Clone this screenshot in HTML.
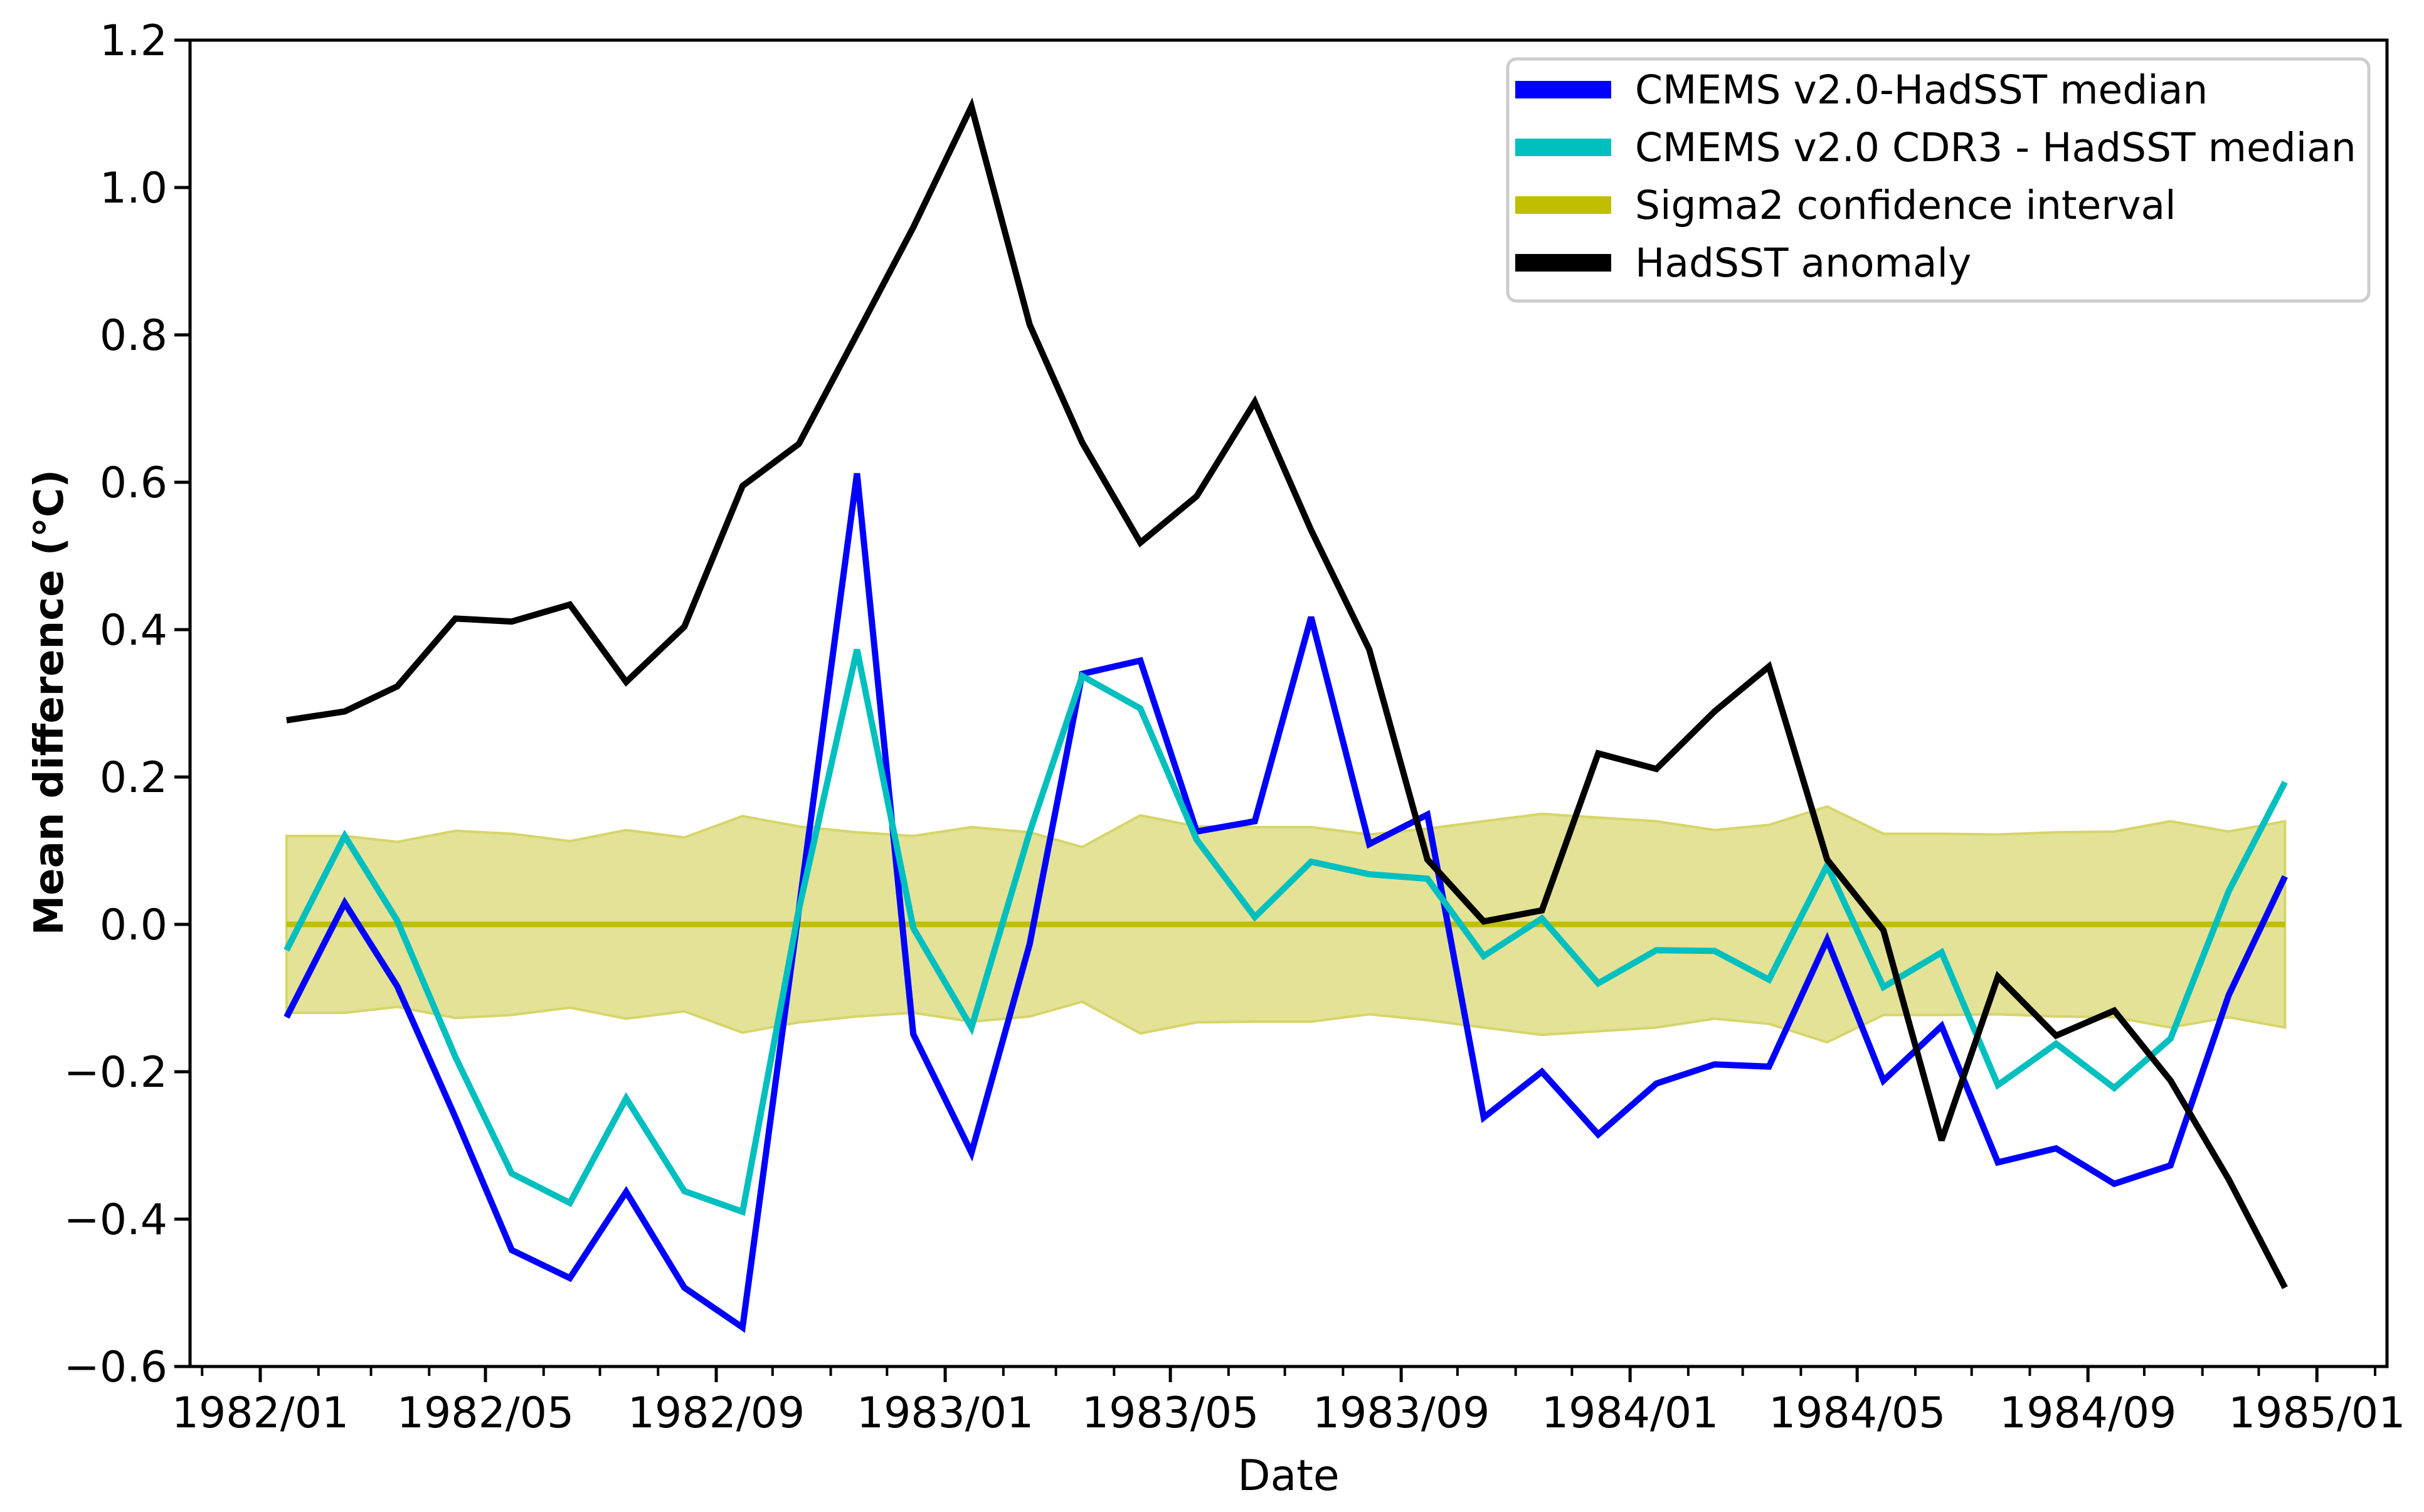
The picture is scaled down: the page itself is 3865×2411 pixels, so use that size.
<!DOCTYPE html>
<html><head><meta charset="utf-8"><style>
html,body{margin:0;padding:0;background:#fff;}
svg{display:block;font-family:"DejaVu Sans","Liberation Sans",sans-serif;}
</style></head><body>
<svg id="chart" width="3865" height="2411" viewBox="0 0 3865 2411" xmlns="http://www.w3.org/2000/svg"></svg>
<script>
const months = ["1982/01","1982/02","1982/03","1982/04","1982/05","1982/06","1982/07","1982/08","1982/09","1982/10","1982/11","1982/12","1983/01","1983/02","1983/03","1983/04","1983/05","1983/06","1983/07","1983/08","1983/09","1983/10","1983/11","1983/12","1984/01","1984/02","1984/03","1984/04","1984/05","1984/06","1984/07","1984/08","1984/09","1984/10","1984/11","1984/12"];
const blueVals = [-0.126,0.029,-0.084,-0.262,-0.442,-0.480,-0.363,-0.493,-0.547,0.02,0.612,-0.149,-0.310,-0.027,0.340,0.358,0.126,0.140,0.417,0.109,0.149,-0.262,-0.200,-0.285,-0.216,-0.190,-0.193,-0.021,-0.212,-0.138,-0.323,-0.304,-0.352,-0.327,-0.096,0.065];
const cyanVals = [-0.035,0.120,0.005,-0.180,-0.338,-0.378,-0.236,-0.362,-0.390,0.02,0.373,-0.005,-0.140,0.125,0.337,0.293,0.115,0.010,0.085,0.068,0.062,-0.043,0.008,-0.080,-0.035,-0.036,-0.075,0.080,-0.085,-0.038,-0.218,-0.162,-0.222,-0.155,0.045,0.193];
const blackVals = [0.277,0.289,0.323,0.415,0.411,0.434,0.329,0.404,0.595,0.652,0.801,0.946,1.110,0.814,0.654,0.518,0.581,0.709,0.535,0.373,0.088,0.004,0.019,0.232,0.211,0.289,0.350,0.088,-0.008,-0.293,-0.071,-0.151,-0.117,-0.212,-0.346,-0.493];
const sigmaVals = [0.12,0.12,0.112,0.127,0.123,0.113,0.128,0.118,0.147,0.133,0.125,0.12,0.132,0.125,0.105,0.148,0.133,0.132,0.132,0.122,0.13,0.14,0.15,0.145,0.14,0.128,0.135,0.16,0.123,0.123,0.122,0.125,0.126,0.14,0.126,0.14];
const yTicks = [-0.6,-0.4,-0.2,0.0,0.2,0.4,0.6,0.8,1.0,1.2];
const xTickLabels = ["1982/01","1982/05","1982/09","1983/01","1983/05","1983/09","1984/01","1984/05","1984/09","1985/01"];

const svg = document.getElementById('chart');
const NS = "http://www.w3.org/2000/svg";
const L=303,R=3806,T=64,B=2179;
const X0=415, PXD=2.992;
const base = Date.UTC(1982,0,1);
function dayOf(s,d){const p=s.split('/');return (Date.UTC(+p[0],+p[1]-1,d)-base)/86400000;}
function xs(s,d){return X0+dayOf(s,d)*PXD;}
function ys(v){return T+(1.2-v)*(B-T)/1.8;}
function mk(tag,attrs,parent){const e=document.createElementNS(NS,tag);for(const k in attrs)e.setAttribute(k,attrs[k]);(parent||svg).appendChild(e);return e;}

let up=months.map((m,i)=>xs(m,15)+','+ys(sigmaVals[i]));
let lo=months.map((m,i)=>xs(m,15)+','+ys(-sigmaVals[i])).reverse();
const band=mk('polygon',{points:up.concat(lo).join(' '),fill:'#e3e296',stroke:'#d6d56a','stroke-width':4});


const zl=mk('line',{x1:xs(months[0],15),x2:xs(months[35],15),y1:ys(0),y2:ys(0),stroke:'#bfbf00','stroke-width':9});



function series(vals,color,name){
  const pts=months.map((m,i)=>xs(m,15)+','+ys(vals[i])).join(' ');
  const p=mk('polyline',{points:pts,fill:'none',stroke:color,'stroke-width':10,'stroke-linejoin':'miter','stroke-miterlimit':3});
  
  
}
series(blueVals,'#0000ff','cmems-hadsst-line');
series(cyanVals,'#00bfbf','cmems-cdr3-hadsst-line');
series(blackVals,'#000000','hadsst-anomaly-line');

const fr=mk('rect',{x:L,y:T,width:R-L,height:B-T,fill:'none',stroke:'#000','stroke-width':5});



yTicks.forEach(v=>{
  const y=ys(v);
  mk('line',{x1:L-25,x2:L,y1:y,y2:y,stroke:'#000','stroke-width':5});
  const t=mk('text',{x:L-36,y:y+24,'text-anchor':'end','font-size':68,fill:'#000'});
  t.textContent=(v<0?'\u2212':'')+Math.abs(v).toFixed(1);
  
  
});
for(let y=1981;y<=1985;y++)for(let m=1;m<=12;m++){
  const x=X0+(Date.UTC(y,m-1,1)-base)/86400000*PXD;
  if(x<L||x>R)continue;
  mk('line',{x1:x,x2:x,y1:B,y2:B+15,stroke:'#000','stroke-width':4});
}
xTickLabels.forEach(s=>{
  const x=xs(s,1);
  mk('line',{x1:x,x2:x,y1:B,y2:B+25,stroke:'#000','stroke-width':5});
  const t=mk('text',{x:x,y:2276,'text-anchor':'middle','font-size':68,fill:'#000'});
  t.textContent=s;
  
  
});
const xt=mk('text',{x:(L+R)/2,y:2376,'text-anchor':'middle','font-size':68,fill:'#000'});
xt.textContent='Date';


const yt=mk('text',{x:0,y:0,'text-anchor':'middle','font-size':64,'font-weight':'bold',fill:'#000',transform:'translate(100,1120) rotate(-90)'});
yt.textContent='Mean difference (\u00B0C)';



const lg=mk('g',{});


mk('rect',{x:2404,y:94,width:1373,height:386,rx:14,fill:'#fff',stroke:'#cccccc','stroke-width':5},lg);
const legItems=[['#0000ff','CMEMS v2.0-HadSST median'],['#00bfbf','CMEMS v2.0 CDR3 - HadSST median'],['#bfbf00','Sigma2 confidence interval'],['#000000','HadSST anomaly']];
legItems.forEach((it,i)=>{
  const cy=143+i*92;
  const e=mk('g',{},lg);
  
  
  mk('rect',{x:2416,y:cy-14,width:153,height:28,fill:it[0]},e);
  const t=mk('text',{x:2607,y:cy+22,'font-size':63,fill:'#000'},e);
  t.textContent=it[1];
});
</script>
</body></html>
